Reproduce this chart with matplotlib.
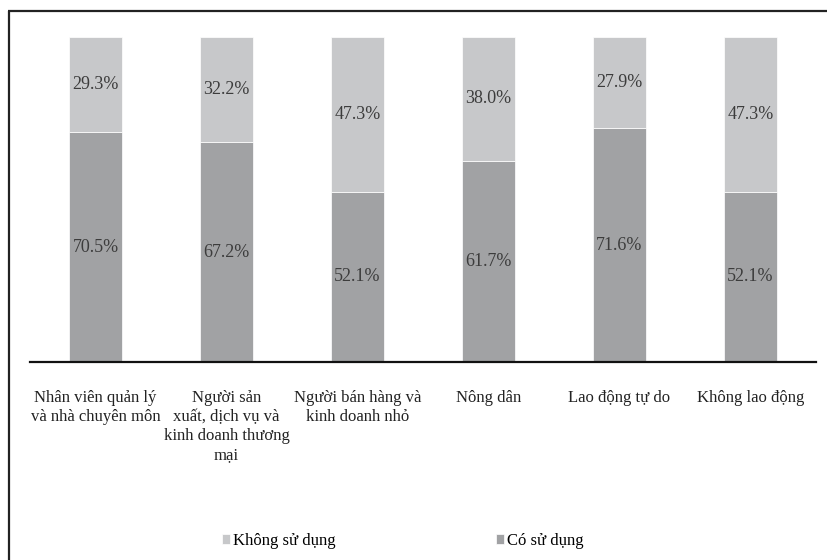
import matplotlib.pyplot as plt
from matplotlib.lines import Line2D
import numpy as np

plt.rcParams["font.family"] = ["Liberation Serif", "DejaVu Serif"]

categories = [
    "Nhân viên quản lý\nvà nhà chuyên môn",
    "Người sản\nxuất, dịch vụ và\nkinh doanh thương\nmại",
    "Người bán hàng và\nkinh doanh nhỏ",
    "Nông dân",
    "Lao động tự do",
    "Không lao động",
]
co_su_dung = [70.5, 67.2, 52.1, 61.7, 71.6, 52.1]
khong_su_dung = [29.3, 32.2, 47.3, 38.0, 27.9, 47.3]
series_names = ["Không sử dụng", "Có sử dụng"]

color_khong = "#c7c8ca"
color_co = "#a1a2a4"

co = np.array(co_su_dung)
khong = np.array(khong_su_dung)
total = co + khong
co_share = co / total
khong_share = khong / total

fig = plt.figure(figsize=(8.28, 5.6), dpi=100)
ax = fig.add_axes([30 / 828, 1 - 362 / 560, 786 / 828, 325 / 560])

x = np.arange(len(categories))
width = 0.4
b_co = ax.bar(x, co_share, width, color=color_co, edgecolor="white", linewidth=0.5)
b_kh = ax.bar(x, khong_share, width, bottom=co_share, color=color_khong,
              edgecolor="white", linewidth=0.5)

for i in range(len(x)):
    ax.text(x[i], co_share[i] / 2, f"{co[i]:.1f}%", ha="center", va="center",
            fontsize=13, color="#3c3c3c")
    ax.text(x[i], co_share[i] + khong_share[i] / 2, f"{khong[i]:.1f}%",
            ha="center", va="center", fontsize=13, color="#3c3c3c")

ax.set_xlim(-0.5, len(categories) - 0.5)
ax.set_ylim(0, 1)
ax.set_xticks(x)
ax.set_xticklabels(categories, fontsize=12, color="#222222", linespacing=1.27,
                   va="top", ha="center")
ax.tick_params(axis="x", length=0, pad=20)
ax.set_yticks([])
for side in ["top", "right", "left"]:
    ax.spines[side].set_visible(False)
ax.spines["bottom"].set_linewidth(1.6)
ax.spines["bottom"].set_color("#111111")

fig.legend([b_kh, b_co], series_names, loc="center", ncol=2,
           bbox_to_anchor=(403 / 828, 1 - 541 / 560), frameon=False,
           fontsize=12, handlelength=0.48, handleheight=0.48,
           handletextpad=0.18, columnspacing=9.6)

# outer frame: only its left and top edges fall inside the image
fx, fy = 8.5 / 828, 1 - 10.5 / 560
fig.add_artist(Line2D([fx, fx], [0, fy], transform=fig.transFigure,
                      color="#222222", linewidth=1.6, solid_capstyle="butt"))
fig.add_artist(Line2D([fx - 0.8 / 828, 827.5 / 828], [fy, fy],
                      transform=fig.transFigure,
                      color="#222222", linewidth=1.6, solid_capstyle="butt"))

fig.savefig("out.png", dpi=100)
